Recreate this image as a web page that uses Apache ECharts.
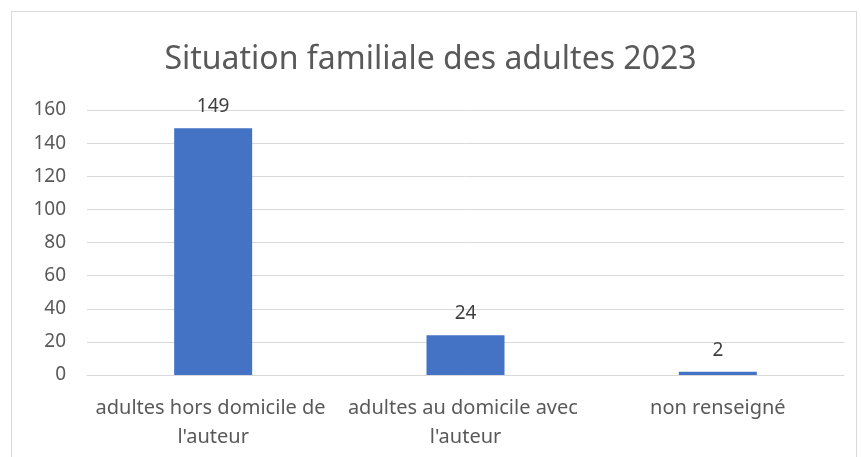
<!DOCTYPE html>
<html>
<head>
<meta charset="utf-8">
<script src="https://cdn.jsdelivr.net/npm/echarts@6/dist/echarts.min.js"></script>
<style>
    html, body { margin: 0; padding: 0; background: #ffffff; }
    #frame { position: absolute; left: 11px; top: 11px; width: 846px; height: 460px; border: 1px solid #d9d9d9; box-sizing: border-box; }
    #chart { position: absolute; left: 0; top: 0; width: 861px; height: 457px; }
</style>
</head>
<body>
<div id="frame"></div>
<div id="chart"></div>
<script>
// données
var categories = ["adultes hors domicile de l'auteur", "adultes au domicile avec l'auteur", "non renseigné"];
var values = [149, 24, 2];
var titleText = "Situation familiale des adultes 2023";

var chart = echarts.init(document.getElementById('chart'));
var option = {
    backgroundColor: 'transparent',
    textStyle: { fontFamily: 'Noto Sans' },
    title: {
        text: titleText,
        left: 'center',
        top: 39,
        textStyle: { fontSize: 32, fontWeight: 'normal', color: '#595959', fontFamily: 'Noto Sans' }
    },
    grid: { left: 87, right: 17, top: 110, bottom: 82 },
    xAxis: {
        type: 'category',
        data: categories,
        axisLine: { lineStyle: { color: '#d9d9d9' } },
        axisTick: { show: false },
        axisLabel: {
            color: '#595959',
            fontSize: 20,
            lineHeight: 29,
            margin: 19,
            width: 250,
            overflow: 'break',
            interval: 0
        }
    },
    yAxis: {
        type: 'value',
        min: 0,
        max: 160,
        interval: 20,
        axisLine: { show: false },
        axisTick: { show: false },
        splitLine: { lineStyle: { color: '#d9d9d9', width: 1 } },
        axisLabel: { color: '#595959', fontSize: 19, margin: 21 }
    },
    series: [{
        type: 'bar',
        data: values,
        barWidth: 78,
        itemStyle: { color: '#4472c4' },
        label: {
            show: true,
            position: 'top',
            distance: 12,
            color: '#404040',
            fontSize: 19
        }
    }]
};
chart.setOption(option);
</script>
</body>
</html>
